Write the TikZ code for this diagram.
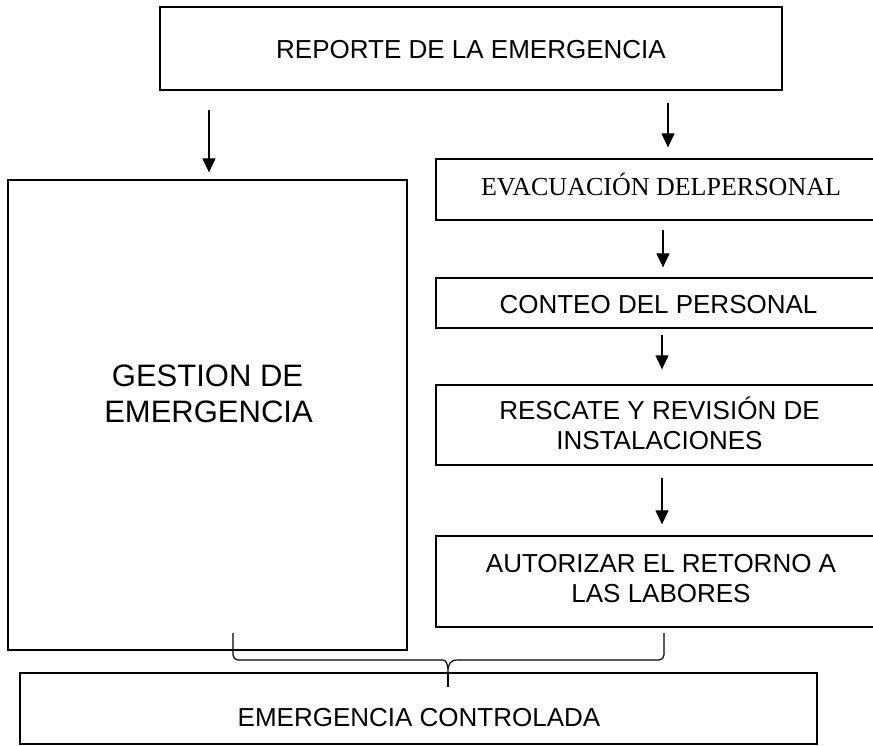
\documentclass[tikz,border=0pt]{standalone}
\usepackage{fontspec}
\setmainfont{Liberation Sans}
\newfontfamily\serifface{Liberation Serif}
\usetikzlibrary{arrows.meta}
\begin{document}
\begin{tikzpicture}[x=1pt,y=-1pt,
  box/.style={draw, line width=1.3pt, inner sep=0pt, rectangle},
  lbl/.style={font=\fontsize{26pt}{30pt}\selectfont, inner sep=0pt, anchor=base},
  biglbl/.style={font=\fontsize{31pt}{36pt}\selectfont, inner sep=0pt, anchor=base},
  seriflbl/.style={font=\serifface\fontsize{26pt}{30pt}\selectfont, inner sep=0pt, anchor=base},
  arr/.style={line width=1.2pt, -{Triangle[width=13pt,length=14pt]}},
  bracestyle/.style={line width=1.2pt, rounded corners=5pt}]
\useasboundingbox (0,0) rectangle (873,745);
\clip (0,0) rectangle (873,745);
% boxes
\node[box, minimum width=622pt, minimum height=83pt] (top) at (471,48.5) {};
\node[box, minimum width=399pt, minimum height=470pt] (gest) at (207.5,415) {};
\node[box, minimum width=448pt, minimum height=61pt] (evac) at (660,189.5) {};
\node[box, minimum width=448pt, minimum height=50pt] (conteo) at (660,303) {};
\node[box, minimum width=448pt, minimum height=80pt] (resc) at (660,425) {};
\node[box, minimum width=448pt, minimum height=91pt] (aut) at (660,581.5) {};
\node[box, minimum width=797pt, minimum height=71pt] (fin) at (418.5,708.5) {};
% texts
\node[lbl] (ttop) at (471,58) {REPORTE DE LA EMERGENCIA};
\node[biglbl] (tgest1) at (207.5,386) {GESTION DE};
\node[biglbl] (tgest2) at (208.5,422) {EMERGENCIA};
\node[seriflbl] (tevac) at (661,195) {EVACUACIÓN DELPERSONAL};
\node[lbl] (tconteo) at (658.5,313) {CONTEO DEL PERSONAL};
\node[lbl] (tresc1) at (659.5,419) {RESCATE Y REVISIÓN DE};
\node[lbl] (tresc2) at (659.5,449) {INSTALACIONES};
\node[lbl] (taut1) at (661,572) {AUTORIZAR EL RETORNO A};
\node[lbl] (taut2) at (661,602) {LAS LABORES};
\node[lbl] (tfin) at (419,726) {EMERGENCIA CONTROLADA};
% arrows
\coordinate (s0) at (209,110);
\coordinate (s1) at (668,103);
\coordinate (s2) at (663,230);
\coordinate (s3) at (662,335);
\coordinate (s4) at (662,478);
\draw[arr, shorten >=7pt] (s0) -- (s0 |- gest.north);
\draw[arr, shorten >=11pt] (s1) -- (s1 |- evac.north);
\draw[arr, shorten >=10pt] (s2) -- (s2 |- conteo.north);
\draw[arr, shorten >=15pt] (s3) -- (s3 |- resc.north);
\draw[arr, shorten >=11pt] (s4) -- (s4 |- aut.north);
% brace
\coordinate (bl) at (233,633);
\coordinate (br) at (664,633);
\coordinate (bc) at (448,672);
\coordinate (bt) at (448,687);
\draw[bracestyle] (bl) -- (233,660) -- (438,660)
  [sharp corners] .. controls (446,660) and (448,664) .. (bc)
  .. controls (448,664) and (450,660) .. (458,660)
  [rounded corners=5pt] -- (664,660) -- (br);
\draw[line width=1.2pt] (bc) -- (bt);
\end{tikzpicture}
\end{document}
